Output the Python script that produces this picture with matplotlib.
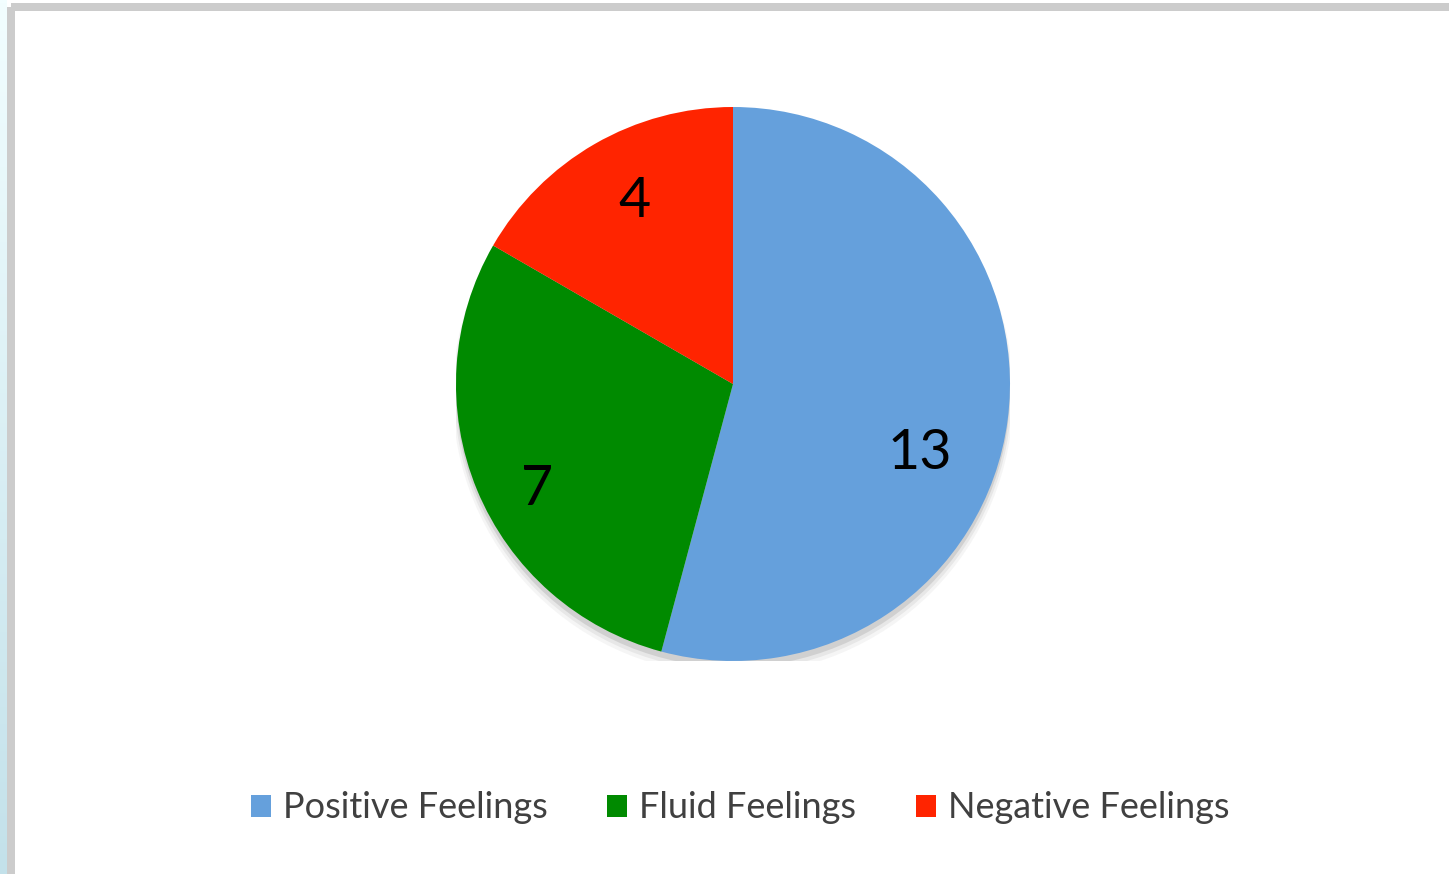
import numpy as np
import matplotlib
matplotlib.use('Agg')
import matplotlib.pyplot as plt
from matplotlib.patches import Circle, Rectangle

# data
categories = ['Positive Feelings', 'Fluid Feelings', 'Negative Feelings']
counts = [13, 7, 4]
colors = ['#65a0dc', '#008a00', '#ff2400']

plt.rcParams['font.family'] = ['Lato', 'DejaVu Sans']

W, H = 1449, 874
fig = plt.figure(figsize=(W / 100, H / 100), dpi=100)
fig.patch.set_facecolor('white')

# light strip at far left + grey frame lines
strip = fig.add_axes([0, 0, 7 / W, 1])
grad = np.linspace(0, 1, 256).reshape(-1, 1)
strip.imshow(grad, aspect='auto', cmap=matplotlib.colors.LinearSegmentedColormap.from_list(
    'strip', ['#c3e1ea', '#f2feff']), origin='lower', extent=[0, 1, 0, 1])
strip.axis('off')
fig.patches.append(Rectangle((7 / W, 0), 8 / W, 1 - 7 / H, transform=fig.transFigure,
                             facecolor='#cccccc', edgecolor='none'))
fig.patches.append(Rectangle((11 / W, 1 - 11 / H), 1, 8 / H, transform=fig.transFigure,
                             facecolor='#cccccc', edgecolor='none'))

# pie axes: centre ~(733, 384), radius ~277 px
cx, cy, r = 733, 384, 277
ax = fig.add_axes([(cx - r) / W, (H - cy - r) / H, 2 * r / W, 2 * r / H])

# soft shadow under the pie
for dy, rad, a in [(-0.038, 1.012, 0.07), (-0.03, 1.006, 0.11), (-0.022, 1.0, 0.2)]:
    ax.add_patch(Circle((0, dy), rad, facecolor='#777777', edgecolor='none', alpha=a, zorder=0))

wedges, texts, autotexts = ax.pie(counts, colors=colors, startangle=90, counterclock=False,
                                  autopct=lambda p: '%d' % round(p * sum(counts) / 100),
                                  pctdistance=0.77, radius=1,
                                  wedgeprops=dict(edgecolor='none', zorder=1),
                                  textprops=dict(fontsize=40, color='black'))
ax.set_xlim(-1, 1)
ax.set_ylim(-1, 1)
ax.set_aspect('equal')
ax.axis('off')

# Excel-style label placement (angle in deg, fraction of radius)
label_place = [(-20.3, 0.72), (-151.8, 0.803), (118.4, 0.751)]
for t, (a, d) in zip(autotexts, label_place):
    a = np.deg2rad(a)
    t.set_position((d * np.cos(a), d * np.sin(a)))

leg = fig.legend(wedges, categories, loc='center', bbox_to_anchor=(740 / W, 1 - 808 / H),
                 ncol=3, frameon=False, fontsize=26, handlelength=0.55, handleheight=0.55,
                 handletextpad=0.33, columnspacing=1.66, labelcolor='#404040')

fig.savefig('out.png', dpi=100, facecolor='white')
